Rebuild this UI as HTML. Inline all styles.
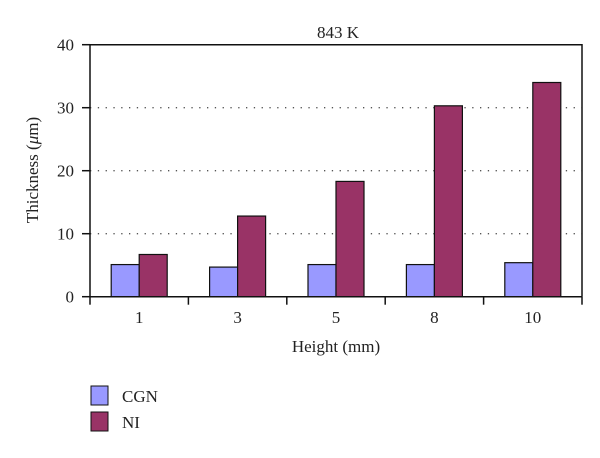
<!DOCTYPE html>
<html><head><meta charset="utf-8"><style>
body{margin:0;background:#fff;}
svg text{font-family:"Liberation Serif",serif;fill:#222;}
</style></head><body>
<svg id="c" width="600" height="453">
<text x="338" y="38" font-size="17" text-anchor="middle">843 K</text>
<text transform="translate(38,170) rotate(-90)" font-size="17" text-anchor="middle">Thickness (<tspan font-style="italic">μ</tspan>m)</text>
<text x="336" y="352" font-size="17" text-anchor="middle">Height (mm)</text>
<g id="grid"></g><g id="bars"></g><g id="axes"></g>
<rect x="91" y="386" width="17" height="19" fill="#9999ff" stroke="#111" stroke-width="1"/>
<text x="122" y="402" font-size="17">CGN</text>
<rect x="91" y="412" width="17" height="19" fill="#993366" stroke="#111" stroke-width="1"/>
<text x="122" y="428" font-size="17">NI</text>
</svg>
<script>
const categories=["1","3","5","8","10"];
const cgn=[5.1,4.7,5.1,5.1,5.4];
const ni=[6.7,12.8,18.3,30.3,34.0];
const yTicks=[0,10,20,30,40];
const L=90,R=582,T=44.7,B=296.7,YMAX=40;
const NS="http://www.w3.org/2000/svg";
const y=v=>B-(v/YMAX)*(B-T);
const bw=(R-L)/categories.length;
const cx=i=>L+bw*(i+0.5);
function mk(tag,attrs,parent){const e=document.createElementNS(NS,tag);for(const k in attrs)e.setAttribute(k,attrs[k]);document.getElementById(parent).appendChild(e);return e;}
yTicks.forEach(t=>{
  if(t>0&&t<YMAX){const g=mk('line',{x1:L,x2:R,y1:y(t),y2:y(t),stroke:'#555','stroke-width':1.3,'stroke-dasharray':'1.3 6.5'},'grid');
  
  }
  const tk=mk('line',{x1:L-8,x2:L,y1:y(t),y2:y(t),stroke:'#111','stroke-width':1.5},'axes');
  
  
  const lb=mk('text',{x:L-16,y:y(t)+6,'font-size':17,'text-anchor':'end'},'axes');lb.textContent=t;
  
  
});
const barW=28;
categories.forEach((c,i)=>{
  const a=mk('rect',{x:cx(i)-barW,y:y(cgn[i]),width:barW,height:B-y(cgn[i]),fill:'#9999ff',stroke:'#111','stroke-width':1.2},'bars');
  
  
  const b=mk('rect',{x:cx(i),y:y(ni[i]),width:barW,height:B-y(ni[i]),fill:'#993366',stroke:'#111','stroke-width':1.2},'bars');
  
  
  const lb=mk('text',{x:cx(i),y:323,'font-size':17,'text-anchor':'middle'},'axes');lb.textContent=c;
  
  
});
for(let i=0;i<=categories.length;i++){
  const tk=mk('line',{x1:L+bw*i,x2:L+bw*i,y1:B,y2:B+8,stroke:'#111','stroke-width':1.5},'axes');
  
  
}
const fr=mk('polyline',{points:`${L},${B} ${L},${T} ${R},${T} ${R},${B}`,fill:'none',stroke:'#111','stroke-width':1.5},'axes');


const xa=mk('line',{x1:L,x2:R,y1:B,y2:B,stroke:'#111','stroke-width':1.5},'axes');


</script>
</body></html>
